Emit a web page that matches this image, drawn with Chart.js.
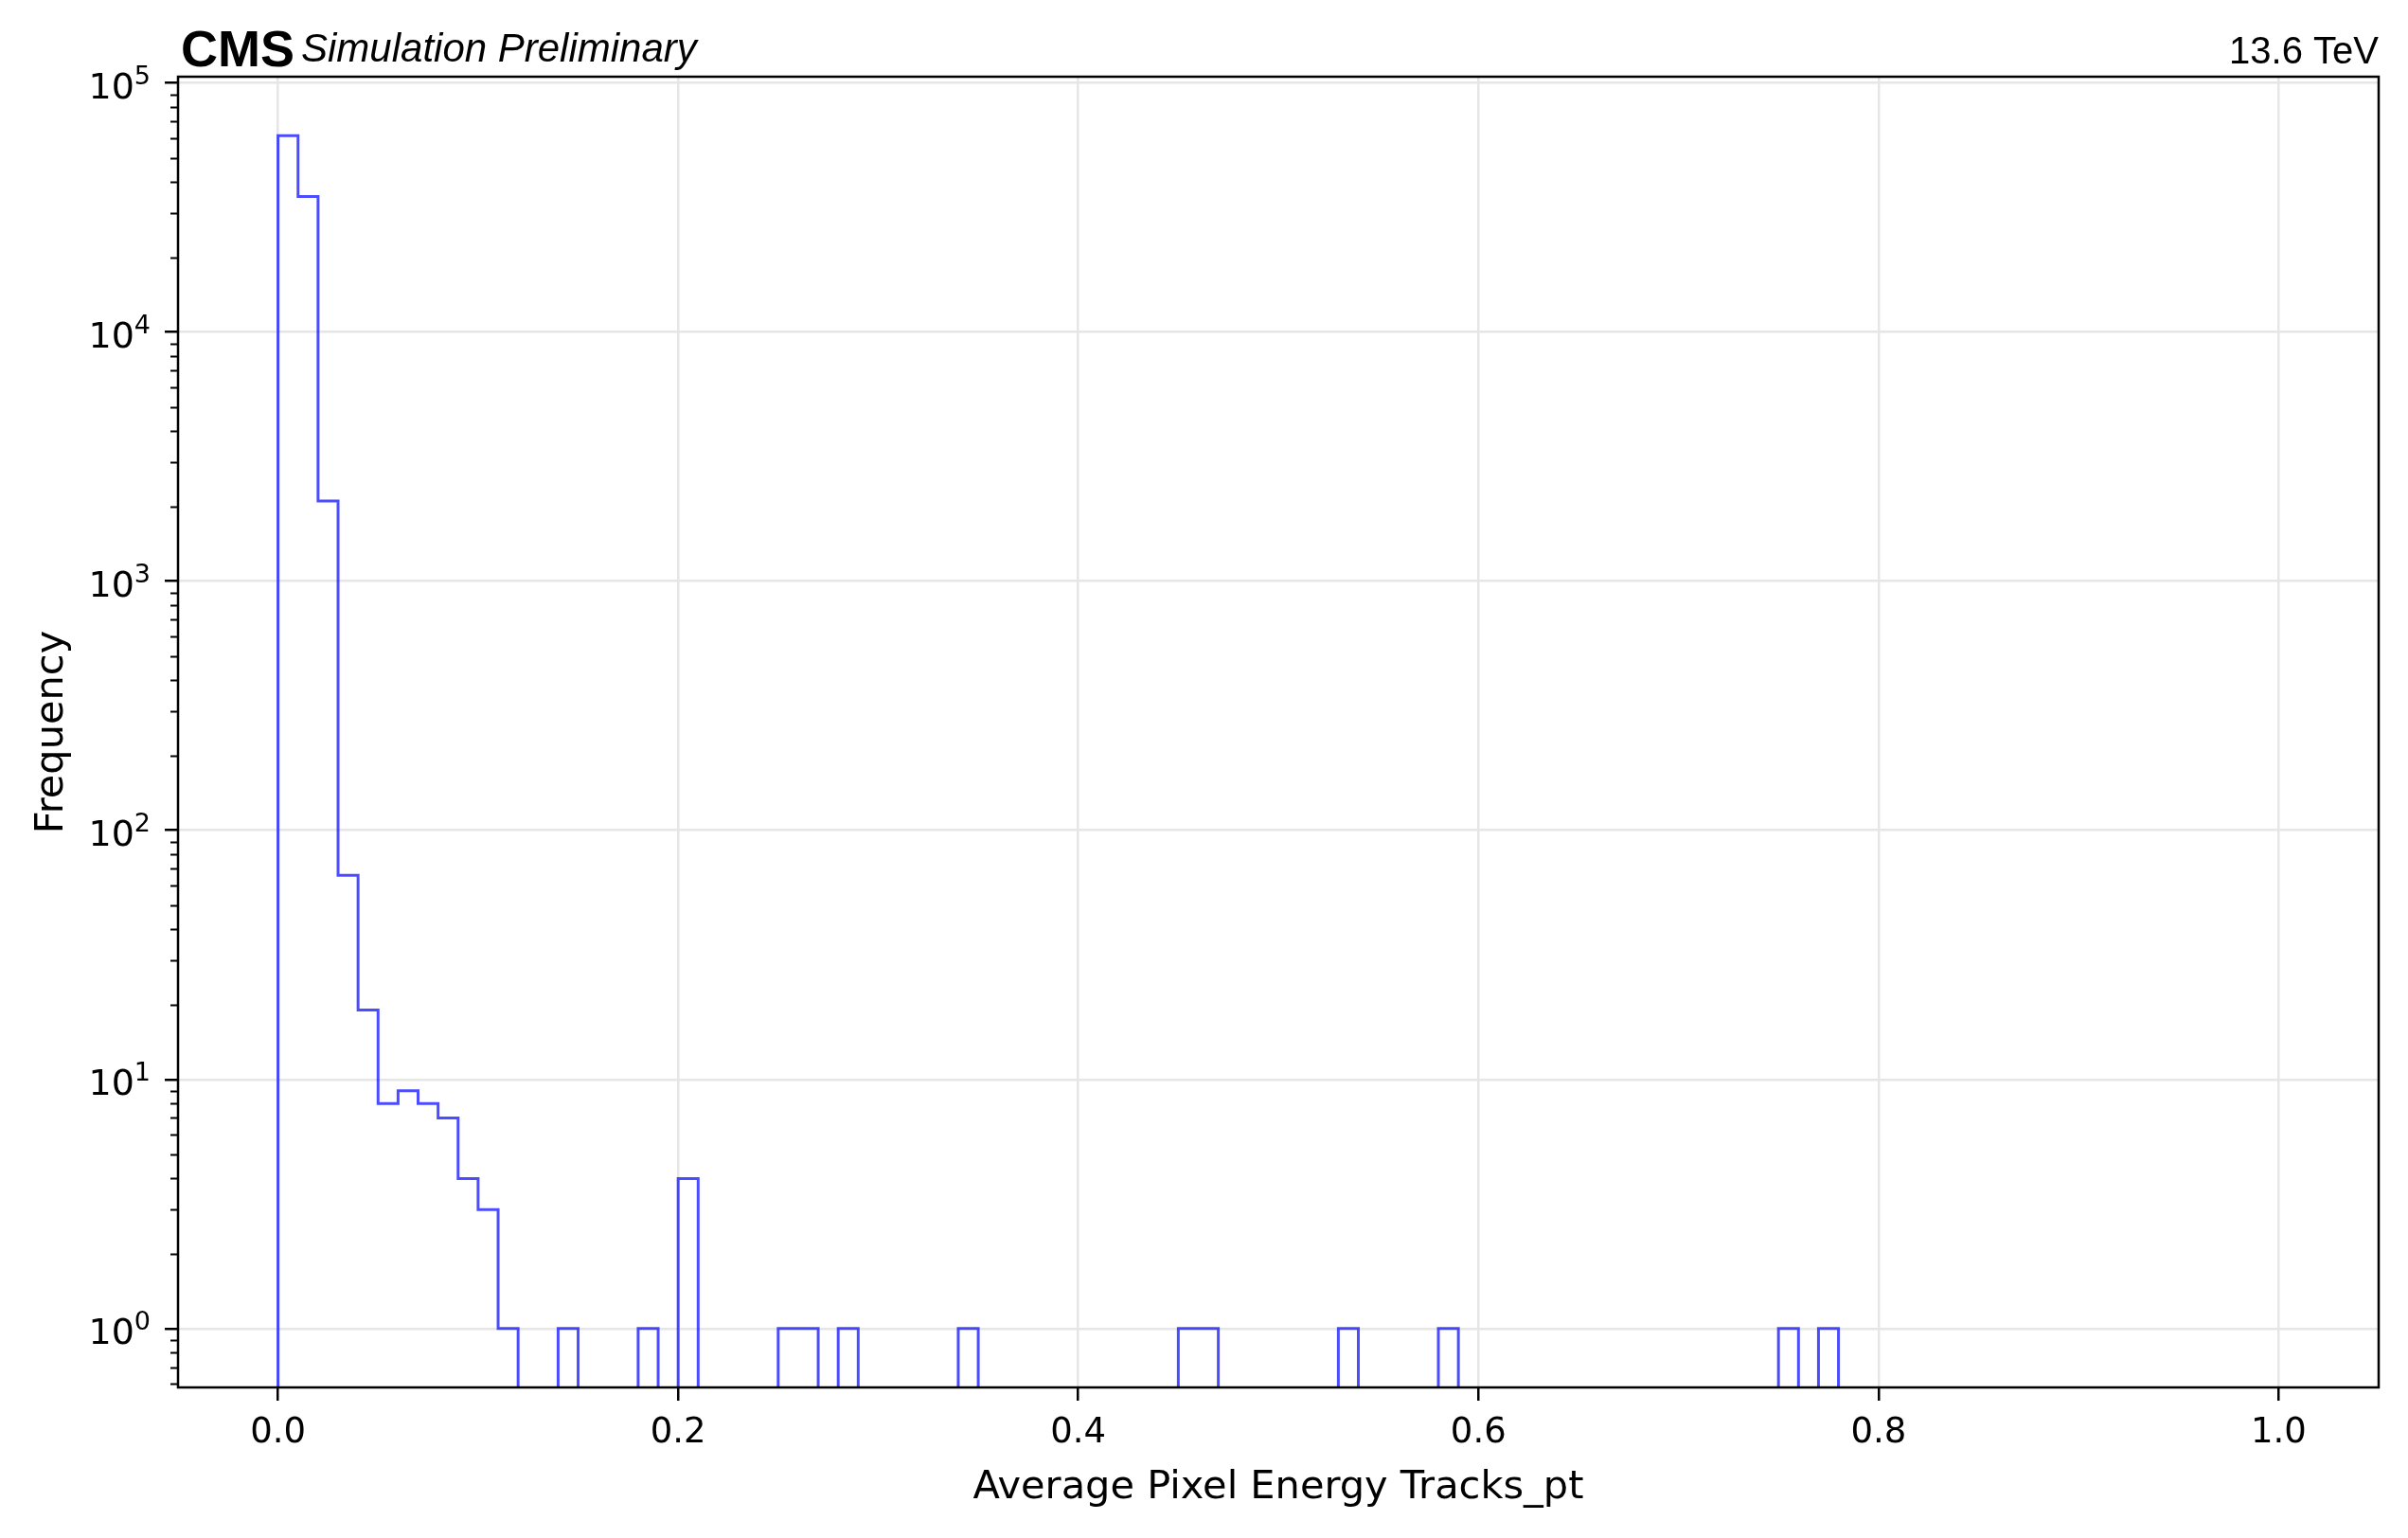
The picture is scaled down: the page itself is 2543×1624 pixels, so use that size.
<!DOCTYPE html>
<html>
<head>
<meta charset="utf-8">
<script src="https://cdn.jsdelivr.net/npm/chart.js@4/dist/chart.umd.min.js"></script>
<style>html,body{margin:0;padding:0;background:#fff}canvas{display:block}</style>
</head>
<body>
<canvas id="c" width="2543" height="1624" style="width:2543px;height:1624px"></canvas>
<script>
// histogram definition: 100 bins on [0, 1]
const binLo = 0, binHi = 1, nBins = 100;
// counts per bin (0 = empty bin)
const counts = [
  61500, 35000, 2100, 66, 19, 8, 9, 8, 7, 4,
  3, 1, 0, 0, 1, 0, 0, 0, 1, 0,
  4, 0, 0, 0, 0, 1, 1, 0, 1, 0,
  0, 0, 0, 0, 1, 0, 0, 0, 0, 0,
  0, 0, 0, 0, 0, 1, 1, 0, 0, 0,
  0, 0, 0, 1, 0, 0, 0, 0, 1, 0,
  0, 0, 0, 0, 0, 0, 0, 0, 0, 0,
  0, 0, 0, 0, 0, 1, 0, 1, 0, 0,
  0, 0, 0, 0, 0, 0, 0, 0, 0, 0,
  0, 0, 0, 0, 0, 0, 0, 0, 0, 0
];
const xTicks = [0, 0.2, 0.4, 0.6, 0.8, 1.0];
const yTicks = [1, 10, 100, 1000, 10000, 100000];
const xRange = [-0.05, 1.05];
const yRange = [0.58, 1.06e5];

// step outline like histtype='step'; empty bins sit below the axis floor
const floor = yRange[0] / 2;
const w = (binHi - binLo) / nBins;
const pts = [{x: binLo, y: floor}];
counts.forEach((c, i) => {
  const v = c > 0 ? c : floor;
  pts.push({x: binLo + i*w, y: v}, {x: binLo + (i+1)*w, y: v});
});
pts.push({x: binHi, y: floor});

const FONT = "'DejaVu Sans', sans-serif";
Chart.defaults.color = '#000';

const frame = {
  id: 'frame',
  afterDraw(chart){
    const {ctx, chartArea: a, scales: {y}} = chart;
    ctx.save();
    // minor log ticks
    ctx.strokeStyle = '#000'; ctx.lineWidth = 2;
    for (let e = -1; e < 6; e++) for (let m = 2; m < 10; m++) {
      const v = m * Math.pow(10, e);
      if (v < y.min || v > y.max) continue;
      const py = Math.round(y.getPixelForValue(v)) + 0.5;
      ctx.beginPath(); ctx.moveTo(a.left - 8, py); ctx.lineTo(a.left, py); ctx.stroke();
    }
    ctx.lineWidth = 2.5;
    ctx.strokeRect(a.left, a.top, a.right - a.left, a.bottom - a.top);
    // y tick labels as 10 with a raised exponent
    ctx.fillStyle = '#000'; ctx.textBaseline = 'alphabetic';
    const xr = a.left - 14 - 15;
    y.ticks.forEach(t => {
      const py = y.getPixelForValue(t.value);
      const ex = String(Math.round(Math.log10(t.value)));
      ctx.font = '27px ' + FONT; ctx.textAlign = 'right';
      const ew = ctx.measureText(ex).width;
      ctx.fillText(ex, xr, py + 1);
      ctx.font = '38px ' + FONT;
      ctx.fillText('10', xr - ew, py + 16);
    });
    // header
    ctx.textAlign = 'left';
    ctx.font = "bold 54px 'Liberation Sans Narrow', 'Liberation Sans', Arial, sans-serif";
    ctx.fillText('CMS', 191, 70);
    ctx.font = "italic 42px 'Liberation Sans', Arial, sans-serif";
    ctx.fillText('Simulation Preliminary', 318, 65);
    ctx.textAlign = 'right';
    ctx.font = "40px 'Liberation Sans', Arial, sans-serif";
    ctx.fillText('13.6 TeV', a.right, 67);
    ctx.restore();
  }
};

new Chart(document.getElementById('c'), {
  type: 'line',
  data: { datasets: [{
    data: pts,
    borderColor: 'rgba(0,0,255,0.7)', borderWidth: 3,
    pointRadius: 0, tension: 0, fill: false, clip: 0
  }]},
  options: {
    responsive: false, animation: false, devicePixelRatio: 1,
    layout: { padding: { top: 81, right: 31, left: 0, bottom: 0 } },
    plugins: { legend: { display: false }, tooltip: { enabled: false } },
    scales: {
      x: {
        type: 'linear', min: xRange[0], max: xRange[1],
        afterBuildTicks: (s) => { s.ticks = xTicks.map(v => ({value: v})); },
        afterFit: (s) => { s.height = 159; },
        grid: { color: '#e6e6e6', lineWidth: 2.5, tickColor: '#000', tickWidth: 2.5, tickLength: 14 },
        border: { display: false },
        ticks: { font: {family: FONT, size: 37}, padding: 12, maxRotation: 0, callback: (v) => Number(v).toFixed(1) },
        title: { display: true, text: 'Average Pixel Energy Tracks_pt', font: {family: FONT, size: 41.5}, padding: {top: 0, bottom: 28} }
      },
      y: {
        type: 'logarithmic', min: yRange[0], max: yRange[1],
        afterBuildTicks: (s) => { s.ticks = yTicks.map(v => ({value: v, major: true})); },
        afterFit: (s) => { s.width = 188; },
        grid: { color: '#e6e6e6', lineWidth: 2.5, tickColor: '#000', tickWidth: 2.5, tickLength: 14 },
        border: { display: false },
        ticks: { display: false },
        title: { display: true, text: 'Frequency', font: {family: FONT, size: 41.5}, padding: {top: 30, bottom: 0} }
      }
    }
  },
  plugins: [frame]
});
</script>
</body>
</html>
